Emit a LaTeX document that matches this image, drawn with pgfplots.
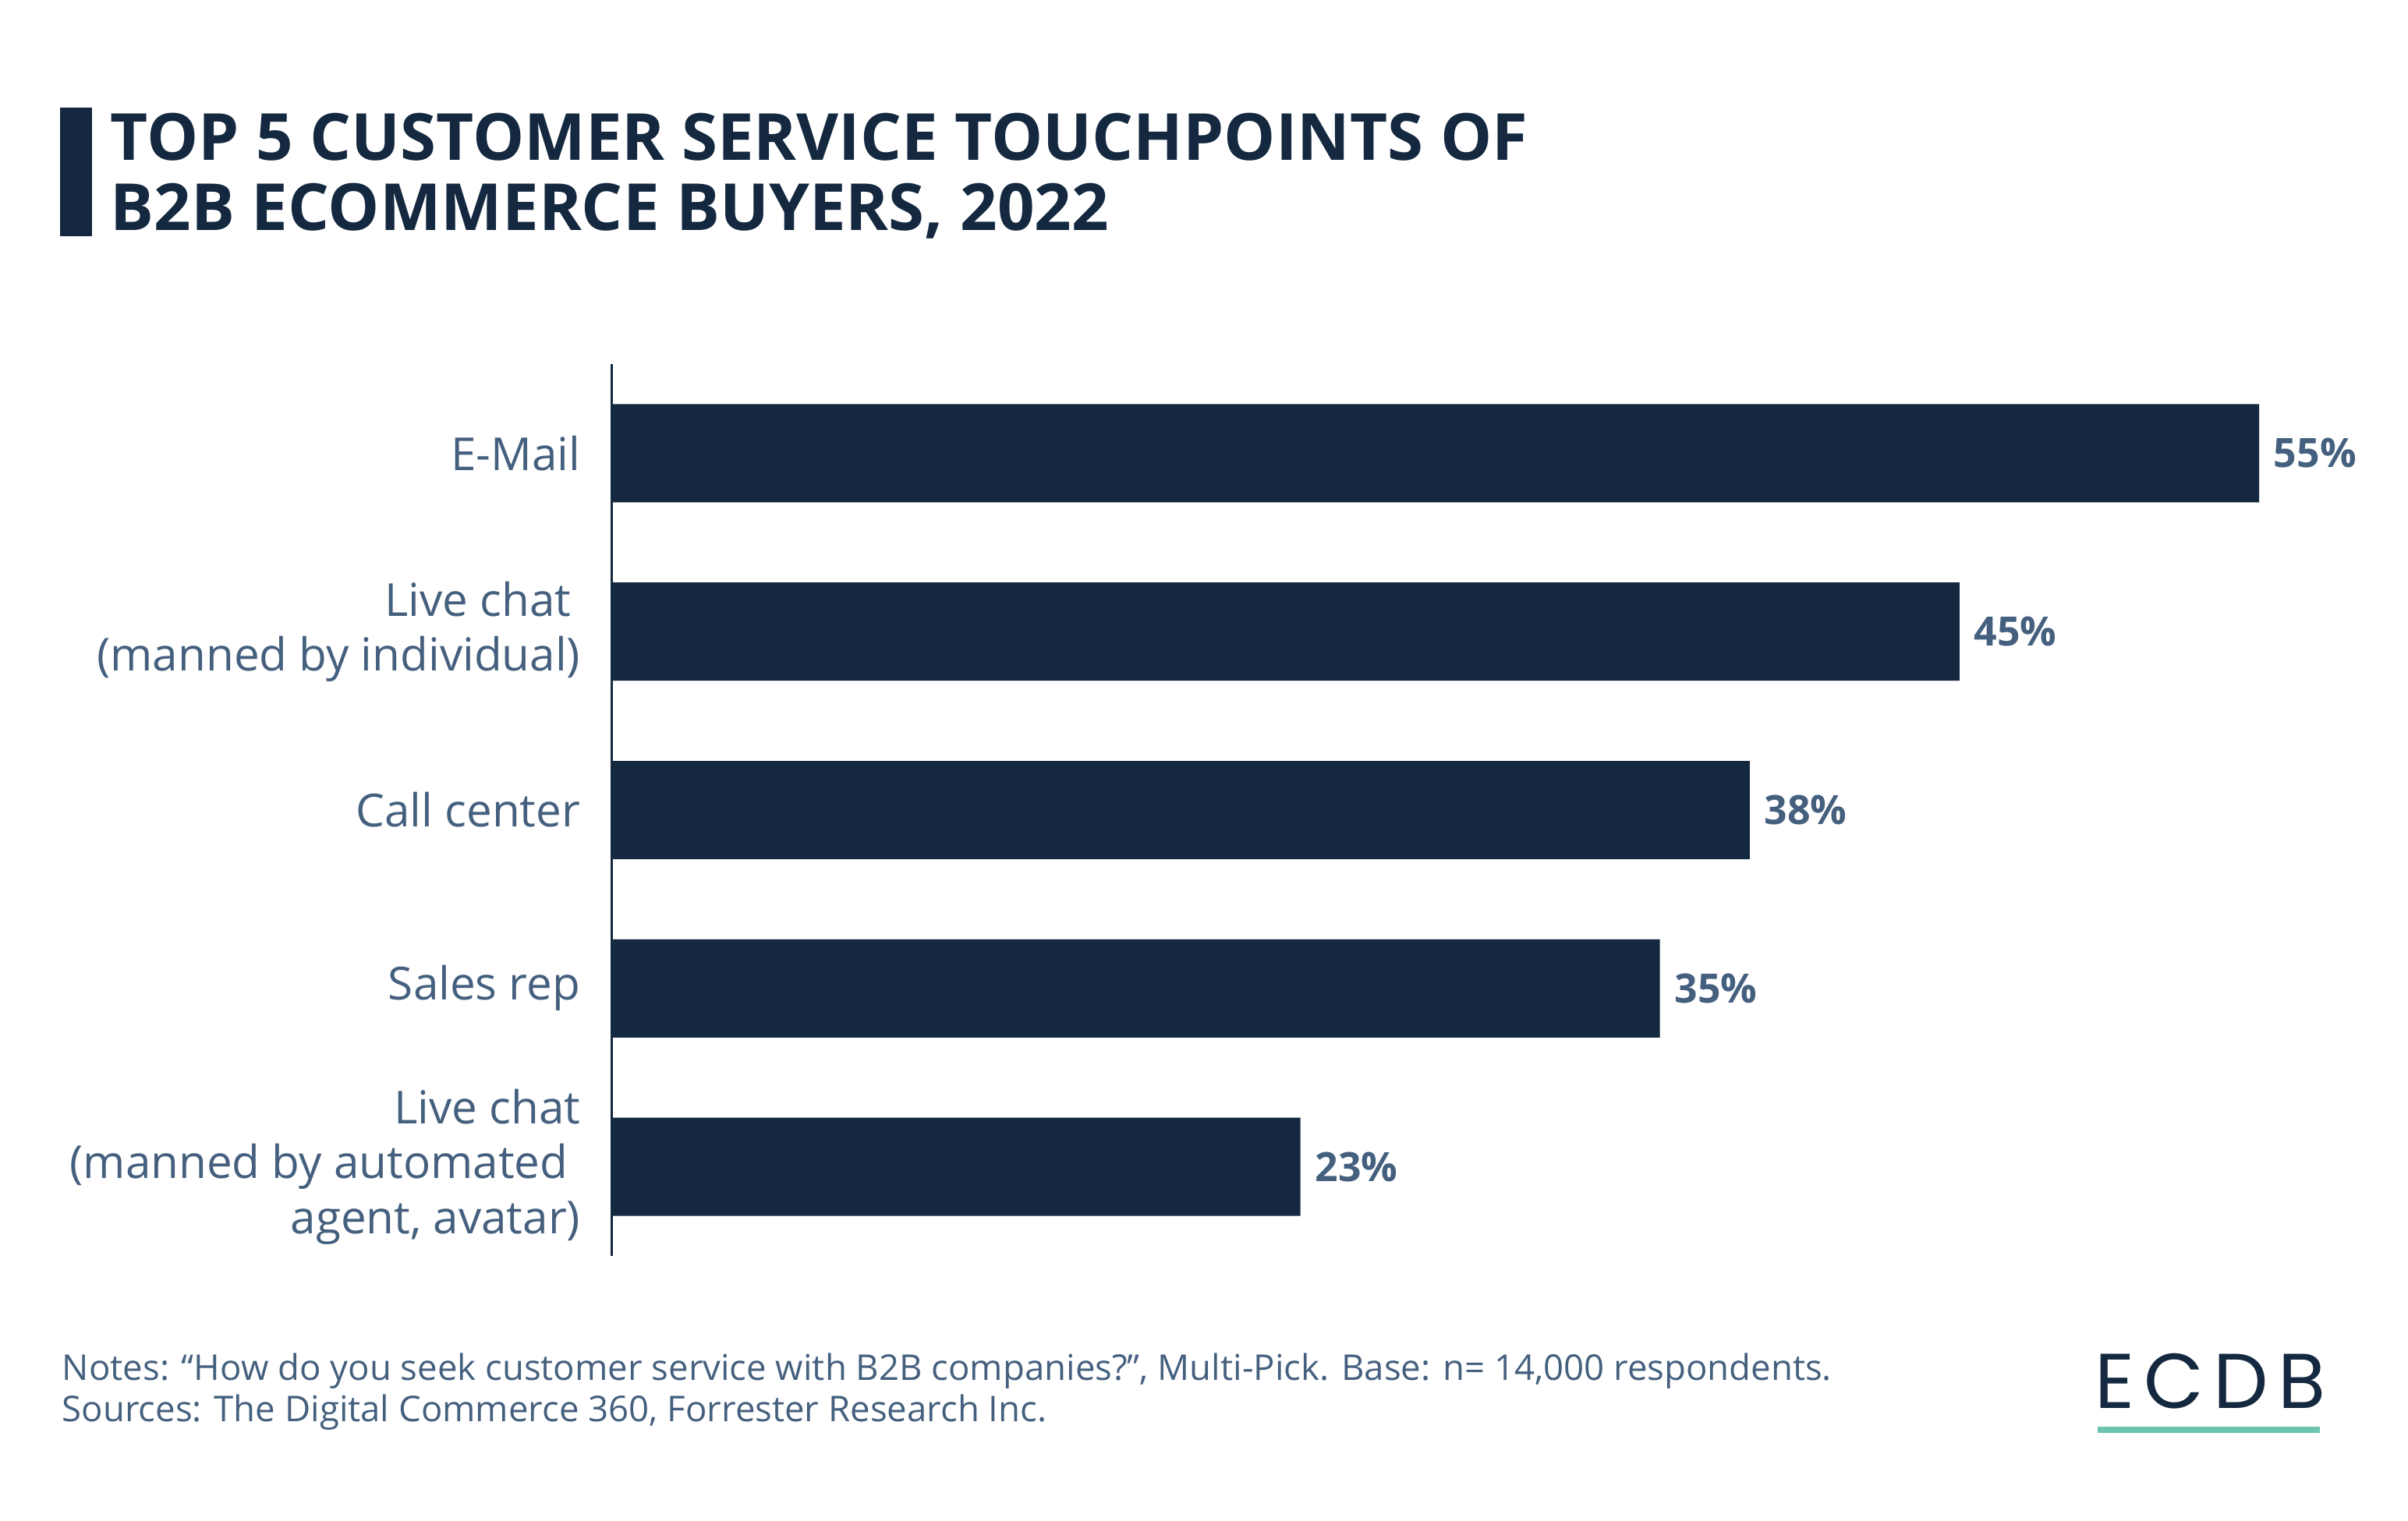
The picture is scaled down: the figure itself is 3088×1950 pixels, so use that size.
\documentclass[border=0pt]{standalone}
\usepackage{pgfplots}
\pgfplotsset{compat=1.18}
\usepackage{fontspec}
\setmainfont{Open Sans}
\newfontfamily\logofont{Poppins}
\definecolor{navy}{HTML}{14283F}
\definecolor{slate}{HTML}{45607E}
\definecolor{teal}{HTML}{6CC3AE}
\begin{document}
\begin{tikzpicture}[x=0.25bp,y=-0.25bp]
\path[use as bounding box] (0,0) rectangle (3088,1950);
\fill[navy] (77,138) rectangle (118,303);
\node[anchor=base west, inner sep=0pt, text=navy, font=\fontsize{20.9}{22}\selectfont\bfseries] at (141,205) {TOP 5 CUSTOMER SERVICE TOUCHPOINTS OF};
\node[anchor=base west, inner sep=0pt, text=navy, font=\fontsize{20.9}{22}\selectfont\bfseries] at (141,295) {B2B ECOMMERCE BUYERS, 2022};
\coordinate (axorigin) at (784,1611);
\begin{axis}[
  at={(axorigin)}, anchor=south west,
  scale only axis, width=528.25bp, height=286bp,
  xbar, xmin=0, xmax=55, ymin=-0.5, ymax=4.5, y dir=reverse,
  axis x line=none, axis y line*=left,
  y axis line style={navy, line width=0.75bp},
  ytick={0,1,2,3,4},
  yticklabels={{E-Mail},{Live chat\kern3bp\\(manned by individual)},{Call center},{Sales rep},{Live chat\\(manned by automated\kern4bp\\agent, avatar)}},
  major tick length=0pt, ytick style={draw=none},
  yticklabel style={align=right, font=\fontsize{14.65}{17.75}\selectfont, text=slate, inner sep=0pt, xshift=-9.75bp},
  bar width=31.5bp,
  /pgf/number format/assume math mode=true,
  nodes near coords={\pgfmathprintnumber{\pgfplotspointmeta}\%},
  point meta=x,
  nodes near coords style={anchor=west, inner sep=0pt, xshift=4.5bp, font=\fontsize{13}{15}\selectfont\bfseries, text=slate},
  clip=false,
]
\addplot[fill=navy, draw=none] coordinates {(55,0) (45,1) (38,2) (35,3) (23,4)};
\end{axis}
\node[anchor=base west, inner sep=0pt, text=slate, font=\fontsize{11.43}{13}\selectfont] at (79,1770) {Notes: “How do you seek customer service with B2B companies?”, Multi-Pick. Base: n= 14,000 respondents.};
\node[anchor=base west, inner sep=0pt, text=slate, font=\fontsize{11.43}{13}\selectfont] at (79,1823) {Sources: The Digital Commerce 360, Forrester Research Inc.};
\node[anchor=base west, inner sep=0pt, text=navy, font=\logofont\fontsize{25}{28}\selectfont] at (2686,1806) {E\kern3bp C\kern3bp D\kern3bp B};
\fill[teal] (2690,1830) rectangle (2975,1838);
\end{tikzpicture}
\end{document}
